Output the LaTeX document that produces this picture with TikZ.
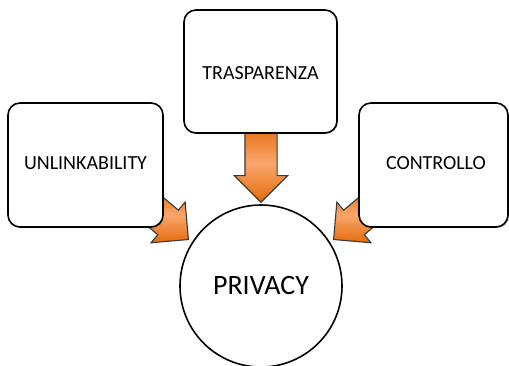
\documentclass[tikz,border=0pt]{standalone}
\usepackage{fontspec}
\setmainfont{Carlito}
\usetikzlibrary{shapes.arrows,shadows}

\definecolor{arrowdark}{HTML}{E46C0A}
\definecolor{arrowlight}{HTML}{F9A66C}
\definecolor{arrowedge}{HTML}{3A3A3A}

\tikzset{
  conceptbox/.style={draw=black, line width=1.6pt, fill=white, rounded corners=12pt,
    inner sep=0pt,
    drop shadow={shadow xshift=1pt, shadow yshift=-1.2pt, opacity=0.35, fill=black!60}},
  boxlabel/.style={font=\fontsize{20}{24}\selectfont},
  corecircle/.style={draw=black, line width=1.6pt, fill=white, circle, inner sep=0pt,
    minimum size=162pt, font=\fontsize{28}{32}\selectfont},
  blockarrow/.style={single arrow, draw=arrowedge, line width=1.1pt,
    inner xsep=0pt, inner ysep=15.5pt, single arrow head extend=10.5pt,
    single arrow head indent=0pt, anchor=tip,
    top color=arrowdark, bottom color=arrowdark, middle color=arrowlight}
}

\begin{document}
\begin{tikzpicture}[x=1pt, y=-1pt]
  \useasboundingbox (0,0) rectangle (509,365);

  % block arrows, tails tucked under the boxes
  \node[blockarrow, minimum height=78pt, rotate=-90] (arrT) at (261,203) {};
  \node[blockarrow, minimum height=62pt, rotate=-40] (arrU) at (189,240) {};
  \node[blockarrow, minimum height=62pt, rotate=-140] (arrC) at (333,240) {};

  % concept boxes
  \node[conceptbox, minimum width=155pt, minimum height=124pt] (unl) at (85.5,165) {};
  \node[conceptbox, minimum width=153pt, minimum height=123pt] (tra) at (260.5,71.5) {};
  \node[conceptbox, minimum width=149pt, minimum height=124pt] (con) at (433.5,165) {};

  \node[boxlabel] (unlt) at (85.5,163) {UNLINKABILITY};
  \node[boxlabel] (trat) at (260.5,73) {TRASPARENZA};
  \node[boxlabel] (cont) at (436,163) {CONTROLLO};

  % central circle
  \node[corecircle] (priv) at (261,286) {PRIVACY};
\end{tikzpicture}
\end{document}
